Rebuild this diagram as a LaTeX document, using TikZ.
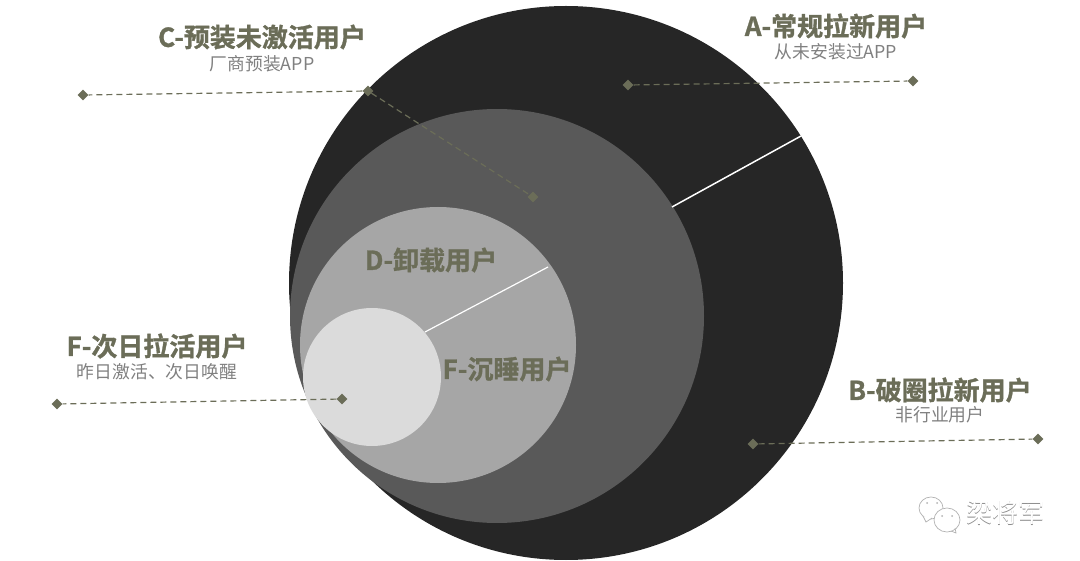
\documentclass[tikz,border=0pt]{standalone}
\usepackage{fontspec}
\setmainfont{Noto Sans CJK SC}
\newfontfamily\headfont[FakeBold=1.2]{Noto Sans CJK SC Bold}
\usetikzlibrary{shapes.geometric}
\definecolor{olive}{HTML}{6B6D58}
\definecolor{subgray}{HTML}{808080}
\begin{document}
\begin{tikzpicture}[x=1pt,y=-1pt,
 disc/.style={circle,inner sep=0pt,outer sep=0pt},
 dot/.style={diamond,fill=olive,inner sep=0pt,minimum size=11pt},
 lead/.style={draw=olive,line width=1.2pt,dash pattern=on 6pt off 4pt},
 head/.style={text=olive,font=\headfont\fontsize{26}{26}\selectfont,inner sep=0pt},
 sub/.style={text=subgray,font=\fontsize{17.8}{18}\selectfont,inner sep=0pt},
 wmark/.style={font=\fontsize{26}{26}\selectfont,inner sep=0pt},
 bubble/.style={draw=black!30,fill=white,line width=.7pt}]
\useasboundingbox (0,0) rectangle (1080,561);
% Nested circles, largest first.
\node[disc,fill=black!85,minimum size=554pt] (big) at (566,283) {};
\node[disc,fill=black!65,minimum size=414pt] (mid) at (497,316) {};
\node[disc,fill=black!35,minimum size=276pt] (lite) at (438,345) {};
\node[disc,fill=black!14,minimum size=138pt] (small) at (372,377) {};
% White radial lines.
\coordinate (w1a) at (672,207);
\coordinate (w1b) at (801,136);
\coordinate (w2a) at (425,332);
\coordinate (w2b) at (548,267);
\draw[white,line width=1.5pt] (w1a) -- (w1b);
\draw[white,line width=1.2pt] (w2a) -- (w2b);
% Leaders with their diamond ends.
\node[dot] (a1) at (628,85) {};
\node[dot] (a2) at (913,81) {};
\node[dot] (b1) at (753,444) {};
\node[dot] (b2) at (1038,439) {};
\node[dot] (c0) at (368,91) {};
\node[dot] (c1) at (83,95) {};
\node[dot] (c2) at (533,197) {};
\node[dot] (f1) at (342,399) {};
\node[dot] (f2) at (57,404) {};
\draw[lead] (a1) -- (a2);
\draw[lead] (b1) -- (b2);
\draw[lead] (c0) -- (c1);
\draw[lead] (c0) -- (c2);
\draw[lead] (f1) -- (f2);
% Labels.
\node[head] (ta) at (836,26) {A-常规拉新用户};
\node[sub] (sa) at (836,52) {从未安装过APP};
\node[head] (tb) at (940,390) {B-破圈拉新用户};
\node[sub] (sb) at (940,415) {非行业用户};
\node[head] (tc) at (262,37) {C-预装未激活用户};
\node[sub] (sc) at (262,64) {厂商预装APP};
\node[head] (td) at (431,260) {D-卸载用户};
\node[head] (te) at (507,369) {F-沉睡用户};
\node[head] (tf) at (157,346) {F-次日拉活用户};
\node[sub] (sf) at (157,372) {昨日激活、次日唤醒};
% Watermark.
\draw[bubble] (931,508) circle[x radius=12,y radius=11];
\draw[bubble] (923,516) -- (926,522) -- (932,518);
\draw[bubble] (947,520) circle[x radius=13,y radius=12];
\draw[bubble,fill=none] (951,531) -- (956,533) -- (955,528);
\fill[black!30] (927,503) circle(1pt) (937,503) circle(1pt) (942,516) circle(1pt) (952,516) circle(1pt);
\node[wmark,text=black!45] (wm0) at (1005.7,513.7) {梁将军};
\node[wmark,text=white] (wm) at (1005,513) {梁将军};
\end{tikzpicture}
\end{document}
